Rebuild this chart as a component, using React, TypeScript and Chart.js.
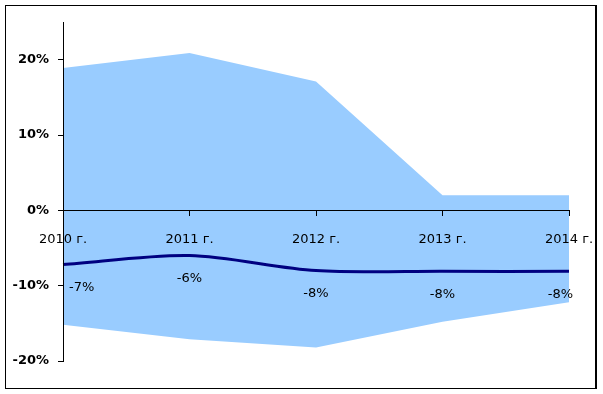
import React, { useEffect, useRef } from "react";
import { Chart, registerables } from "chart.js";

Chart.register(...registerables);

const categories = ["2010 г.", "2011 г.", "2012 г.", "2013 г.", "2014 г."];
const upperBand = [18.9, 20.9, 17.1, 2.0, 2.0];
const lowerBand = [-15.2, -17.1, -18.2, -14.8, -12.2];
const mainLine = [-7.2, -6.0, -8.0, -8.1, -8.1];
const yTicks = [-20, -10, 0, 10, 20];

const FONT = "'DejaVu Sans', Tahoma, sans-serif";

const dataLabels = {
  id: "dataLabels",
  afterDatasetsDraw(chart: any) {
    const meta = chart.getDatasetMeta(0);
    const ctx = chart.ctx;
    const area = chart.chartArea;
    ctx.save();
    ctx.font = `13px ${FONT}`;
    ctx.fillStyle = "#000";
    ctx.textBaseline = "middle";
    ctx.textAlign = "left";
    meta.data.forEach((pt: any, i: number) => {
      const txt = `${Math.round(mainLine[i])}%`;
      const w = ctx.measureText(txt).width;
      let x = pt.x - w / 2;
      if (x < area.left + 6) x = area.left + 6;
      if (x + w > area.right + 4) x = area.right + 4 - w;
      ctx.fillText(txt, x, pt.y + 23);
    });
    ctx.restore();
  },
};

export default function App() {
  const ref = useRef<HTMLCanvasElement>(null);
  useEffect(() => {
    if (!ref.current) return;
    const chart = new Chart(ref.current, {
      type: "line",
      data: {
        labels: categories,
        datasets: [
          {
            data: mainLine,
            borderColor: "#000080",
            borderWidth: 3,
            pointRadius: 0,
            tension: 0.3,
            fill: false,
          },
          {
            data: upperBand,
            borderWidth: 0,
            borderColor: "rgba(0,0,0,0)",
            backgroundColor: "#99CCFF",
            pointRadius: 0,
            tension: 0,
            fill: "+1",
          },
          {
            data: lowerBand,
            borderWidth: 0,
            borderColor: "rgba(0,0,0,0)",
            backgroundColor: "#99CCFF",
            pointRadius: 0,
            tension: 0,
            fill: false,
          },
        ],
      },
      options: {
        animation: false,
        responsive: false,
        maintainAspectRatio: false,
        layout: { padding: { left: 0, top: 22, right: 34, bottom: 33 } },
        plugins: { legend: { display: false }, tooltip: { enabled: false } },
        scales: {
          x: {
            position: { y: 0 } as any,
            offset: false,
            afterFit: (scale: any) => {
              scale.paddingLeft = 0;
              scale.paddingRight = 0;
            },
            grid: {
              drawOnChartArea: false,
              color: "#000",
              tickLength: 5,
              z: 1,
            },
            border: { color: "#000", width: 1, z: 1 },
            ticks: {
              color: "#000",
              font: { family: FONT, size: 13 },
              padding: 16,
              maxRotation: 0,
              autoSkip: false,
              z: 1,
            },
          },
          y: {
            min: -20,
            max: 25,
            afterBuildTicks: (scale: any) => {
              scale.ticks = yTicks.map((v) => ({ value: v }));
            },
            afterFit: (scale: any) => {
              scale.width = 63;
            },
            grid: {
              drawOnChartArea: false,
              color: "#000",
              tickLength: 5,
              z: 1,
            },
            border: { color: "#000", width: 1, z: 1 },
            ticks: {
              color: "#000",
              font: { family: FONT, size: 13, weight: "bold" },
              padding: 9,
              z: 1,
              callback: (v: any) => `${v}%`,
            },
          },
        },
      },
      plugins: [dataLabels],
    });
    return () => chart.destroy();
  }, []);
  return (
    <div style={{ position: "fixed", left: 0, top: 0, width: 603, height: 394, background: "#fff" }}>
      <canvas ref={ref} width={603} height={394} style={{ position: "absolute", left: 0, top: 0 }} />
      <div
        style={{
          position: "absolute",
          left: 5,
          top: 5,
          width: 592,
          height: 384,
          boxSizing: "border-box",
          borderTop: "1px solid #000",
          borderLeft: "1px solid #000",
          borderBottom: "1px solid #000",
          borderRight: "2px solid #000",
          pointerEvents: "none",
        }}
      />
    </div>
  );
}
